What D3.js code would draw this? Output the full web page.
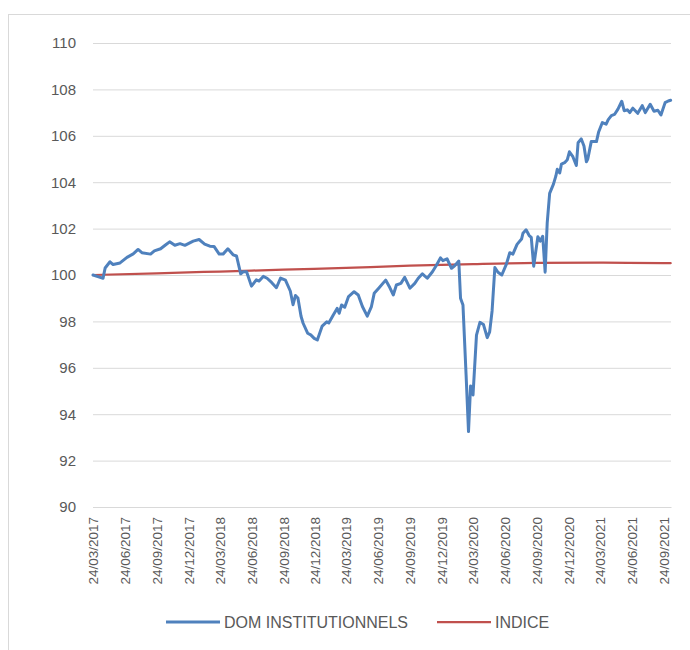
<!DOCTYPE html>
<html>
<head>
<meta charset="utf-8">
<script src="https://cdnjs.cloudflare.com/ajax/libs/d3/7.8.5/d3.min.js"></script>
<style>
    body { margin: 0; background: #ffffff; }
    #chart text { font-family: "Liberation Sans", Arial, sans-serif; fill: #595959; }
    .frame { fill: none; stroke: #d9d9d9; stroke-width: 1; }
    .gridAxis line { stroke: #d9d9d9; stroke-width: 1; }
    .gridAxis path { display: none; }
    .dateAxis path { stroke: #d9d9d9; }
    .domLine { fill: none; stroke: #4f81bd; stroke-width: 3; stroke-linejoin: round; stroke-linecap: round; }
    .indiceLine { fill: none; stroke: #c0504d; stroke-width: 2.25; stroke-linecap: round; }
</style>
</head>
<body>
<div id="chart"></div>
<script>

// valeurs (base 100 au 24/03/2017)
var domSeries = [
    ["2017-03-24",100.00],["2017-04-07",99.93],["2017-04-22",99.86],["2017-04-28",100.30],
    ["2017-05-12",100.57],["2017-05-21",100.45],["2017-06-10",100.52],["2017-06-30",100.76],
    ["2017-07-18",100.91],["2017-08-01",101.10],["2017-08-12",100.96],["2017-09-06",100.90],
    ["2017-09-17",101.04],["2017-10-05",101.13],["2017-10-18",101.28],["2017-10-31",101.43],
    ["2017-11-15",101.28],["2017-11-30",101.35],["2017-12-14",101.28],["2018-01-07",101.46],
    ["2018-01-24",101.53],["2018-02-09",101.33],["2018-02-24",101.24],["2018-03-08",101.23],
    ["2018-03-23",100.90],["2018-04-03",100.90],["2018-04-17",101.13],["2018-05-02",100.87],
    ["2018-05-12",100.82],["2018-05-24",100.05],["2018-05-31",100.14],["2018-06-10",100.14],
    ["2018-06-24",99.52],["2018-07-08",99.79],["2018-07-16",99.74],["2018-07-28",99.94],
    ["2018-08-08",99.86],["2018-08-21",99.68],["2018-09-04",99.45],["2018-09-16",99.87],
    ["2018-09-30",99.78],["2018-10-14",99.31],["2018-10-22",98.72],["2018-10-29",99.12],
    ["2018-11-05",99.01],["2018-11-14",98.22],["2018-11-20",97.92],["2018-12-03",97.49],
    ["2018-12-12",97.42],["2018-12-22",97.27],["2018-12-31",97.20],["2019-01-14",97.80],
    ["2019-01-27",97.98],["2019-02-02",97.93],["2019-02-15",98.28],["2019-02-26",98.56],
    ["2019-03-04",98.35],["2019-03-11",98.71],["2019-03-20",98.61],["2019-03-31",99.07],
    ["2019-04-16",99.28],["2019-04-28",99.14],["2019-05-10",98.64],["2019-05-24",98.23],
    ["2019-06-05",98.64],["2019-06-13",99.21],["2019-06-26",99.43],["2019-07-16",99.78],
    ["2019-07-28",99.46],["2019-08-07",99.14],["2019-08-16",99.57],["2019-08-29",99.64],
    ["2019-09-09",99.90],["2019-09-24",99.43],["2019-10-08",99.64],["2019-10-18",99.86],
    ["2019-10-30",100.05],["2019-11-13",99.86],["2019-11-28",100.14],["2019-12-10",100.43],
    ["2019-12-21",100.74],["2019-12-28",100.62],["2020-01-09",100.70],["2020-01-22",100.29],
    ["2020-01-31",100.40],["2020-02-12",100.60],["2020-02-17",99.00],["2020-02-24",98.71],
    ["2020-03-04",95.70],["2020-03-11",93.25],["2020-03-17",95.22],["2020-03-24",94.83],
    ["2020-04-03",97.41],["2020-04-13",97.96],["2020-04-23",97.87],["2020-05-04",97.30],
    ["2020-05-11",97.55],["2020-05-18",98.45],["2020-05-26",100.32],["2020-06-04",100.12],
    ["2020-06-15",100.00],["2020-06-28",100.46],["2020-07-08",100.96],["2020-07-17",100.90],
    ["2020-07-29",101.32],["2020-08-11",101.55],["2020-08-15",101.80],["2020-08-24",101.95],
    ["2020-09-02",101.70],["2020-09-08",101.62],["2020-09-15",100.38],["2020-09-27",101.65],
    ["2020-10-04",101.46],["2020-10-11",101.67],["2020-10-18",100.12],["2020-10-24",102.25],
    ["2020-10-31",103.52],["2020-11-11",103.92],["2020-11-18",104.27],["2020-11-22",104.56],
    ["2020-11-29",104.40],["2020-12-04",104.78],["2020-12-13",104.84],["2020-12-21",104.97],
    ["2020-12-27",105.31],["2021-01-06",105.10],["2021-01-16",104.72],["2021-01-21",105.70],
    ["2021-01-30",105.87],["2021-02-07",105.56],["2021-02-14",104.88],["2021-02-18",105.00],
    ["2021-02-28",105.75],["2021-03-15",105.75],["2021-03-21",106.15],["2021-04-01",106.57],
    ["2021-04-12",106.50],["2021-04-18",106.70],["2021-04-27",106.87],["2021-05-06",106.92],
    ["2021-05-16",107.15],["2021-05-27",107.49],["2021-06-03",107.08],["2021-06-12",107.12],
    ["2021-06-19",107.00],["2021-06-28",107.19],["2021-07-12",106.97],["2021-07-25",107.30],
    ["2021-08-03",107.00],["2021-08-17",107.36],["2021-08-28",107.06],["2021-09-08",107.10],
    ["2021-09-17",106.90],["2021-09-29",107.43],["2021-10-08",107.50],["2021-10-15",107.53]
];

var indiceSeries = [
    ["2017-03-24",100.00],["2017-09-24",100.07],["2018-03-24",100.15],["2018-09-24",100.23],
    ["2019-03-24",100.31],["2019-09-24",100.40],["2020-03-24",100.47],["2020-09-24",100.52],
    ["2021-03-24",100.53],["2021-09-24",100.51],["2021-10-15",100.51]
];

var xTickLabels = ["24/03/2017","24/06/2017","24/09/2017","24/12/2017","24/03/2018","24/06/2018",
    "24/09/2018","24/12/2018","24/03/2019","24/06/2019","24/09/2019","24/12/2019","24/03/2020",
    "24/06/2020","24/09/2020","24/12/2020","24/03/2021","24/06/2021","24/09/2021"];

var yTicks = [90, 92, 94, 96, 98, 100, 102, 104, 106, 108, 110];

var seriesNames = ["DOM INSTITUTIONNELS", "INDICE"];


/**
 * Constructor for the performance line chart
 */
function PerformanceChart(){
    var self = this;
    self.init();
};

/**
 * Sets up sizes and the svg
 */
PerformanceChart.prototype.init = function(){
    var self = this;

    self.svgWidth = 690;
    self.svgHeight = 650;
    self.margin = {top: 43, right: 19, bottom: 143, left: 93};
    self.plotWidth = self.svgWidth - self.margin.left - self.margin.right;
    self.plotHeight = self.svgHeight - self.margin.top - self.margin.bottom;

    self.svg = d3.select("#chart").append("svg")
        .attr("width", self.svgWidth)
        .attr("height", self.svgHeight);

    //light frame of the chart area, right and bottom sides fall outside the picture
    self.svg.append("rect")
        .attr("class", "frame")
        .attr("x", 8.5)
        .attr("y", 14.5)
        .attr("width", 700)
        .attr("height", 660);

    self.plot = self.svg.append("g")
        .attr("transform", "translate(" + self.margin.left + "," + self.margin.top + ")");
};

/**
 * Draws axes, grid, both lines and the legend
 */
PerformanceChart.prototype.update = function(){
    var self = this;

    var parseDay = d3.timeParse("%Y-%m-%d");
    var parseLabel = d3.timeParse("%d/%m/%Y");

    var dom = domSeries.map(function (d) {return {date: parseDay(d[0]), value: d[1]}});
    var indice = indiceSeries.map(function (d) {return {date: parseDay(d[0]), value: d[1]}});
    var tickDates = xTickLabels.map(function (d) {return parseLabel(d)});

    var xScale = d3.scaleTime()
        .domain([parseDay("2017-03-24"), parseDay("2021-10-16")])
        .range([0, self.plotWidth]);

    var yScale = d3.scaleLinear()
        .domain([d3.min(yTicks), d3.max(yTicks)])
        .range([self.plotHeight, 0]);

    //horizontal grid + value labels
    var yAxis = d3.axisLeft(yScale)
        .tickValues(yTicks)
        .tickSize(-self.plotWidth)
        .tickPadding(17)
        .tickFormat(d3.format("d"));

    var gy = self.plot.append("g")
        .attr("class", "gridAxis")
        .call(yAxis);
    gy.selectAll("text").style("font-size", "15px");

    //date axis with vertical labels
    var xAxis = d3.axisBottom(xScale)
        .tickValues(tickDates)
        .tickSize(0)
        .tickFormat(d3.timeFormat("%d/%m/%Y"));

    var gx = self.plot.append("g")
        .attr("class", "dateAxis")
        .attr("transform", "translate(0," + self.plotHeight + ")")
        .call(xAxis);

    gx.selectAll("text")
        .style("font-size", "13.5px")
        .attr("text-anchor", "end")
        .attr("transform", "rotate(-90)")
        .attr("x", -10)
        .attr("y", 0)
        .attr("dy", "0.35em");

    var line = d3.line()
        .x(function (d) {return xScale(d.date)})
        .y(function (d) {return yScale(d.value)});

    var smoothLine = d3.line()
        .curve(d3.curveMonotoneX)
        .x(function (d) {return xScale(d.date)})
        .y(function (d) {return yScale(d.value)});

    self.plot.append("path")
        .datum(indice)
        .attr("class", "indiceLine")
        .attr("d", smoothLine);

    self.plot.append("path")
        .datum(dom)
        .attr("class", "domLine")
        .attr("d", line);

    //legend
    var legendY = 622;
    var legendItems = [
        {name: seriesNames[0], x: 166, cls: "domLine"},
        {name: seriesNames[1], x: 437, cls: "indiceLine"}
    ];

    var legend = self.svg.selectAll(".legendItem").data(legendItems)
        .enter()
        .append("g")
        .attr("class", "legendItem")
        .attr("transform", function (d) {return "translate(" + d.x + "," + legendY + ")"});

    legend.append("line")
        .attr("class", function (d) {return d.cls})
        .attr("x1", 0)
        .attr("x2", 54)
        .attr("y1", 0)
        .attr("y2", 0)
        .style("stroke-linecap", "butt");

    legend.append("text")
        .text(function (d) {return d.name})
        .attr("x", 58)
        .attr("y", 0)
        .attr("dy", "0.35em")
        .style("font-size", "16px");
};

var chart = new PerformanceChart();
chart.update();

</script>
</body>
</html>
